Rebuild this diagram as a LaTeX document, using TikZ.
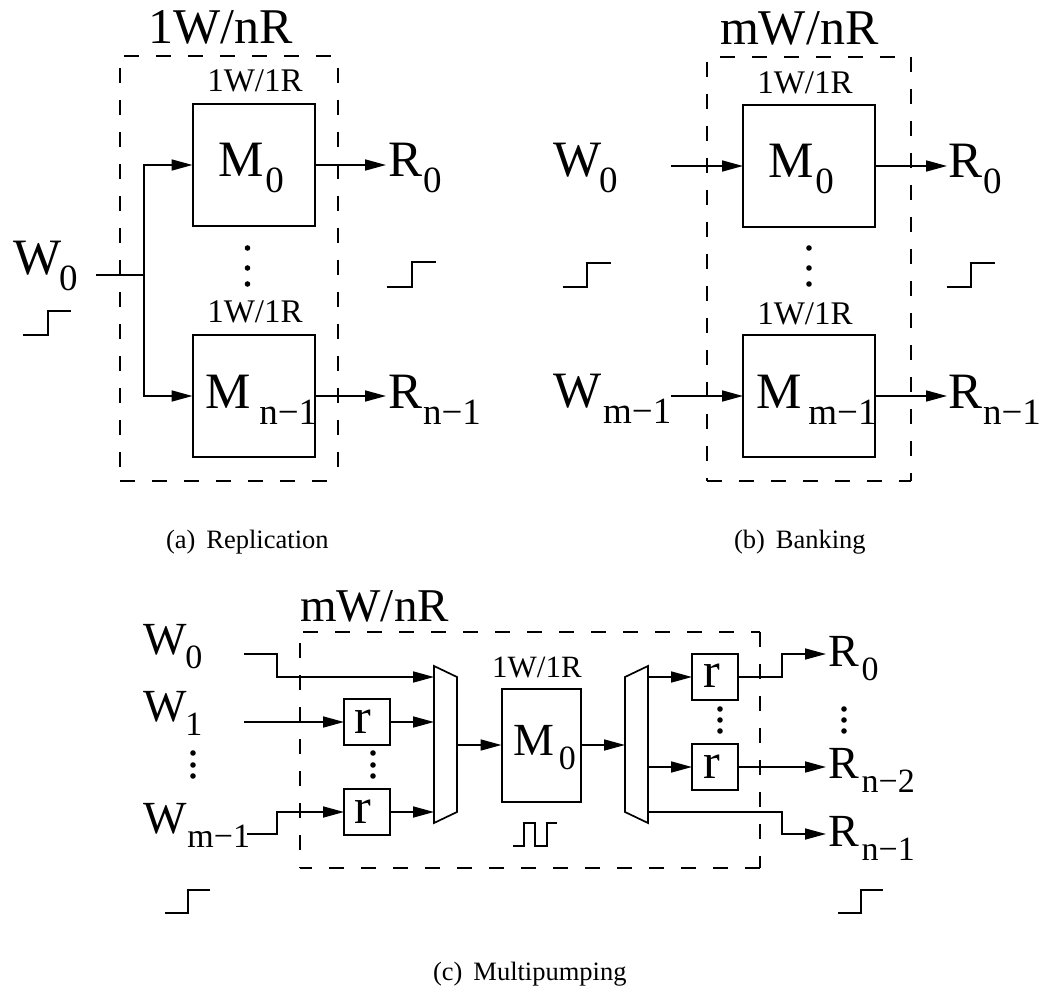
\documentclass[tikz,border=0pt]{standalone}
\usepackage{fontspec}
\setmainfont{Liberation Serif}
\usetikzlibrary{arrows.meta}
\newcommand{\fsz}[1]{\fontsize{#1pt}{#1pt}\selectfont}
% big letter, kern, drop, subscript, big size, sub size
\newcommand{\sublab}[6]{{\fsz{#5}#1\kern#2pt\raisebox{-#3pt}{\fsz{#6}#4}}}
\newcommand{\biglab}[3]{\sublab{#1}{#2}{16}{#3}{51}{37}}
\newcommand{\smllab}[3]{\sublab{#1}{#2}{14}{#3}{46}{34}}
\tikzset{
  x=1pt,y=-1pt,
  wire/.style={line width=1.7pt,draw=black,line cap=butt,line join=miter},
  arr/.style={wire,-{Triangle[length=21pt,width=11pt]}},
  thin wire/.style={line width=1.5pt,draw=black},
  dashline/.style={line width=1.5pt,draw=black,dash pattern=on 15pt off 17pt},
  membox/.style={draw=black,line width=2pt,inner sep=0pt,outer sep=0pt,rectangle,fill=none},
  mbig/.style={membox,minimum width=122pt,minimum height=122pt},
  regbox/.style={membox,minimum width=46pt,minimum height=46pt},
  lab/.style={anchor=base west,inner sep=0pt,outer sep=0pt},
  ctr/.style={anchor=base,inner sep=0pt,outer sep=0pt},
  dotmark/.style={circle,fill=black,inner sep=0pt,minimum size=5.6pt},
  muxshape/.style={wire,fill=white},
  caplab/.style={lab,font=\fsz{26.5}},
}
\begin{document}
\begin{tikzpicture}
\useasboundingbox (0,0) rectangle (1047,987);
%% ---------------- (a) ----------------
\draw[dashline] (124,56) -- (338,56);
\draw[dashline] (338,68) -- (338,481);
\draw[dashline] (120,481) -- (338,481);
\draw[dashline] (120,68) -- (120,481);
\node[mbig] (am0) at (253.5,165) {};
\node[mbig] (am1) at (253.5,396) {};
\node[lab] (ttl) at (148,44) {\fsz{50}1W/nR};
\node[ctr] (ac0) at (255,92) {\fsz{33}1W/1R};
\node[ctr] (ac1) at (255,322) {\fsz{33}1W/1R};
\node[lab] at (218,177) {\biglab{M}{2}{0}};
\node[lab] at (205,408) {\biglab{M}{9}{n−1}};
\node[lab] (ar0) at (388,177) {\biglab{R}{1}{0}};
\node[lab] (ar1) at (388,408) {\biglab{R}{1}{n−1}};
\node[lab] at (13,275) {\biglab{W}{-2}{0}};
\coordinate (aw) at (96,275);
\coordinate (aj) at (144,275);
\coordinate (ao0) at (386,165);
\coordinate (ao1) at (386,396);
\draw[wire] (aw) -- (aj);
\draw[arr] (aj) |- (am0.west);
\draw[arr] (aj) |- (am1.west);
\draw[arr] (am0.east) -- (ao0);
\draw[arr] (am1.east) -- (ao1);
\foreach \n/\y in {1/248,2/268,3/284} \node[dotmark] (ad\n) at (247.5,\y) {};
\draw[thin wire] (23,335) -- (48,335) -- (48,311) -- (71,311);
\draw[thin wire] (387,287) -- (412,287) -- (412,262) -- (436,262);
\node[caplab] (capa) at (166,548) {(a)\, Replication};
%% ---------------- (b) ----------------
\draw[dashline] (720,57) -- (911,57);
\draw[dashline] (911,57) -- (911,481);
\draw[dashline] (707,481) -- (911,481);
\draw[dashline] (707,62) -- (707,481);
\node[mbig,minimum width=132pt] (bm0) at (809,166) {};
\node[mbig,minimum width=132pt] (bm1) at (809,396) {};
\node[lab] at (720,45) {\fsz{50}mW/nR};
\node[ctr] at (805,94) {\fsz{33}1W/1R};
\node[ctr] at (805,324) {\fsz{33}1W/1R};
\node[lab] at (768,178) {\biglab{M}{2}{0}};
\node[lab] at (756,408) {\biglab{M}{7}{m−1}};
\node[lab] at (948,178) {\biglab{R}{1}{0}};
\node[lab] at (948,408) {\biglab{R}{1}{n−1}};
\node[lab] at (553,177) {\biglab{W}{-2}{0}};
\node[lab] at (553,407) {\biglab{W}{2}{m−1}};
\coordinate (bw0) at (671,166);
\coordinate (bw1) at (671,396);
\coordinate (bo0) at (947,166);
\coordinate (bo1) at (947,396);
\draw[arr] (bw0) -- (bm0.west);
\draw[arr] (bw1) -- (bm1.west);
\draw[arr] (bm0.east) -- (bo0);
\draw[arr] (bm1.east) -- (bo1);
\foreach \n/\y in {1/248,2/268,3/284} \node[dotmark] (bd\n) at (809,\y) {};
\draw[thin wire] (563,287) -- (587,287) -- (587,263) -- (611,263);
\draw[thin wire] (947,287) -- (971,287) -- (971,263) -- (995,263);
\node[caplab] (capb) at (734,548) {(b)\, Banking};
%% ---------------- (c) ----------------
\draw[dashline] (303,632) -- (760,632);
\draw[dashline] (760,632) -- (760,868);
\draw[dashline] (760,868) -- (300,868);
\draw[dashline] (300,643) -- (300,868);
\node[lab] at (300,621) {\fsz{47}mW/nR};
\node[lab] at (143,654) {\smllab{W}{-1}{0}};
\node[lab] at (143,721) {\smllab{W}{-1}{1}};
\node[lab] at (143,833) {\smllab{W}{1}{m−1}};
\node[lab] at (828,666) {\smllab{R}{3}{0}};
\node[lab] at (828,778) {\smllab{R}{3}{n−2}};
\node[lab] at (828,846) {\smllab{R}{3}{n−1}};
\node[regbox] (r1) at (367,722) {};
\node[regbox] (r2) at (367,812) {};
\node[regbox] (r3) at (715,677) {};
\node[regbox] (r4) at (715,767) {};
\node[ctr] at (363,733) {\fsz{50}r};
\node[ctr] at (363,823) {\fsz{50}r};
\node[ctr] at (712,687) {\fsz{50}r};
\node[ctr] at (712,778) {\fsz{50}r};
\node[membox,minimum width=79pt,minimum height=113pt] (mc) at (541,745) {};
\node[ctr] at (537,677) {\fsz{31}1W/1R};
\node[lab] at (513,755) {\smllab{M}{5}{0}};
\draw[muxshape] (434,666) -- (457,677) -- (457,812) -- (434,823) -- cycle;
\draw[muxshape] (625,677) -- (648,666) -- (648,823) -- (625,812) -- cycle;
\coordinate (m1e) at (457,745);
\coordinate (m2w) at (625,745);
\coordinate (m1a) at (434,677);
\coordinate (m1b) at (434,722);
\coordinate (m1c) at (434,812);
\coordinate (cw0) at (244,654);
\coordinate (cw1) at (244,722);
\coordinate (cw2) at (247,834);
\coordinate (m2a) at (648,677);
\coordinate (m2b) at (648,767);
\coordinate (m2c) at (648,812);
\coordinate (co0) at (826,654);
\coordinate (co1) at (826,767);
\coordinate (co2) at (826,834);
\draw[arr] (cw0) -- (277,654) -- (277,677) -- (m1a);
\draw[arr] (cw1) -- (r1.west);
\draw[arr] (cw2) -- (277,834) -- (277,812) -- (r2.west);
\draw[arr] (r1.east) -- (m1b);
\draw[arr] (r2.east) -- (m1c);
\draw[arr] (m1e) -- (mc.west);
\draw[arr] (mc.east) -- (m2w);
\draw[arr] (m2a) -- (r3.west);
\draw[arr] (m2b) -- (r4.west);
\draw[arr] (r3.east) -- (782,677) -- (782,654) -- (co0);
\draw[arr] (r4.east) -- (co1);
\draw[arr] (m2c) -- (782,812) -- (782,834) -- (co2);
\foreach \n/\x/\y in {1/193/753,2/193/765,3/193/776,4/373/753,5/373/765,6/373/776,7/720/709,8/720/720,9/720/731,10/844/709,11/844/720,12/844/731}
  \node[dotmark] (cd\n) at (\x,\y) {};
\draw[thin wire] (513,846) -- (524,846) -- (524,823) -- (535,823) -- (535,846) -- (547,846) -- (547,823) -- (557,823);
\draw[thin wire] (165,913) -- (188,913) -- (188,890) -- (210,890);
\draw[thin wire] (838,913) -- (861,913) -- (861,890) -- (883,890);
\node[caplab] (capc) at (433,980) {(c)\, Multipumping};
\end{tikzpicture}
\end{document}
